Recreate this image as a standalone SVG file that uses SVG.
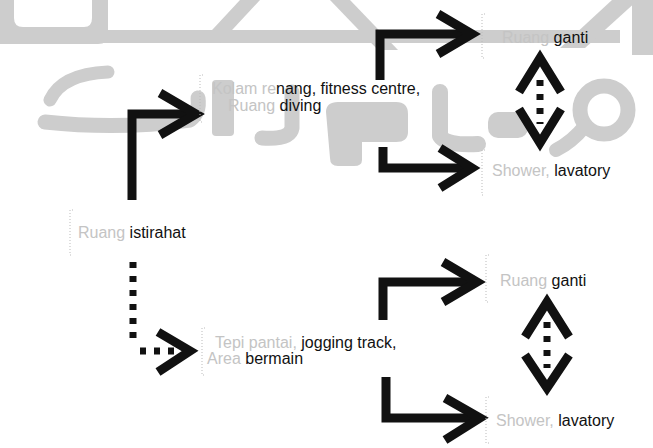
<svg xmlns="http://www.w3.org/2000/svg" width="653" height="448" viewBox="0 0 653 448">
  <style>
    .wm { fill: #cdcdcd; }
    .ws { fill: none; stroke: #cdcdcd; stroke-linecap: round; stroke-linejoin: round; }
    .ln { fill: none; stroke: #111; stroke-width: 9; stroke-linejoin: miter; stroke-linecap: butt; }
    .dot { fill: none; stroke: #111; stroke-width: 7; stroke-dasharray: 6 8; }
    .br { fill: none; stroke: #bbb; stroke-width: 1; stroke-dasharray: 1 2; }
    text { font-family: "Liberation Sans", Arial, sans-serif; font-size: 16px; fill: #111; }
    .fd { fill: #c4c4c4; }
  </style>

  <rect width="653" height="448" fill="#fff"/>

  <!-- background watermark -->
  <g id="watermark">
    <!-- upper emblem -->
    <path class="wm" d="M0 0 H108 V34 Q108 44 98 44 H0 Z M14 0 V18 Q14 27 23 27 H84 Q92 27 92 18 V0 Z" fill-rule="evenodd"/>
    <rect class="wm" x="100" y="30" width="520" height="13"/>
    <polygon class="wm" points="240,0 260,0 220,43 200,43"/>
    <polygon class="wm" points="330,0 350,0 398,50 378,50"/>
    <polygon class="wm" points="612,0 638,0 585,48 560,48"/>
    <rect class="wm" x="632" y="0" width="21" height="55"/>
    <!-- lower calligraphy -->
    <path class="ws" stroke-width="13" d="M50 100 Q62 74 108 72"/>
    <path class="ws" stroke-width="15" d="M45 122 Q120 130 190 120 Q200 112 198 98"/>
    <rect class="wm" x="212" y="80" width="22" height="56" rx="4"/>
    <path class="ws" stroke-width="15" d="M292 92 V128 Q290 140 262 138"/>
    <path class="wm" d="M326 112 Q326 102 338 102 H396 Q408 102 408 114 V132 Q408 142 396 142 H362 V160 Q362 166 354 166 H338 Q330 166 330 158 Z"/>
    <path class="ws" stroke-width="16" d="M440 92 V136 Q446 146 478 144"/>
    <rect class="wm" x="488" y="112" width="40" height="26" rx="10"/>
    <circle class="ws" stroke-width="15" cx="604" cy="110" r="24"/>
    <path class="ws" stroke-width="14" d="M585 126 Q572 142 556 150"/>
  </g>

  <!-- connectors -->
  <g id="connectors">
    <path class="ln" d="M132 200 V114 H190"/>
    <polyline class="ln" points="160,93 196,114 160,135"/>

    <path class="ln" d="M380 80 V34 H466"/>
    <polyline class="ln" points="438,14 472,34 438,54"/>

    <path class="ln" d="M383 147 V168 H466"/>
    <polyline class="ln" points="440,148 472,168 440,188"/>

    <polyline class="ln" points="519,92 540,58 561,92"/>
    <line class="dot" x1="540" y1="80" x2="540" y2="124"/>
    <polyline class="ln" points="519,109 540,143 561,109"/>

    <line class="dot" x1="133" y1="262" x2="133" y2="345"/>
    <line class="dot" x1="140" y1="351" x2="174" y2="351"/>
    <polyline class="ln" points="158,332 190,351 158,372"/>

    <path class="ln" d="M383 320 V282 H471"/>
    <polyline class="ln" points="443,262 477,282 443,302"/>

    <path class="ln" d="M386 377 V418 H474"/>
    <polyline class="ln" points="445,398 480,418 445,440"/>

    <polyline class="ln" points="525,337 547,302 569,337"/>
    <line class="dot" x1="547" y1="322" x2="547" y2="368"/>
    <polyline class="ln" points="525,355 547,388 569,355"/>
  </g>

  <!-- nodes -->
  <g id="ruang-ganti-1">
    <path class="br" d="M485 14 H482 V58 H485"/>
    <text x="502" y="43"><tspan class="fd">Ruang</tspan> ganti</text>
  </g>

  <g id="kolam">
    <path class="br" d="M203 75 H200 V122 H203"/>
    <text x="212" y="94"><tspan class="fd">Kolam re</tspan>nang, fitness centre,</text>
    <text x="228" y="111"><tspan class="fd">Ruang</tspan> diving</text>
  </g>

  <g id="shower-1">
    <path class="br" d="M485 150 H482 V195 H485"/>
    <text x="492" y="176"><tspan class="fd">Shower,</tspan> lavatory</text>
  </g>

  <g id="ruang-istirahat">
    <path class="br" d="M73 210 H70 V255 H73"/>
    <text x="78" y="238"><tspan class="fd">Ruang</tspan> istirahat</text>
  </g>

  <g id="pantai">
    <path class="br" d="M205 328 H202 V375 H205"/>
    <text x="215" y="348"><tspan class="fd">Tepi pantai,</tspan> jogging track,</text>
    <text x="207" y="364"><tspan class="fd">Area</tspan> bermain</text>
  </g>

  <g id="ruang-ganti-2">
    <path class="br" d="M489 255 H486 V302 H489"/>
    <text x="500" y="286"><tspan class="fd">Ruang</tspan> ganti</text>
  </g>

  <g id="shower-2">
    <path class="br" d="M489 397 H486 V443 H489"/>
    <text x="496" y="426"><tspan class="fd">Shower,</tspan> lavatory</text>
  </g>
</svg>
